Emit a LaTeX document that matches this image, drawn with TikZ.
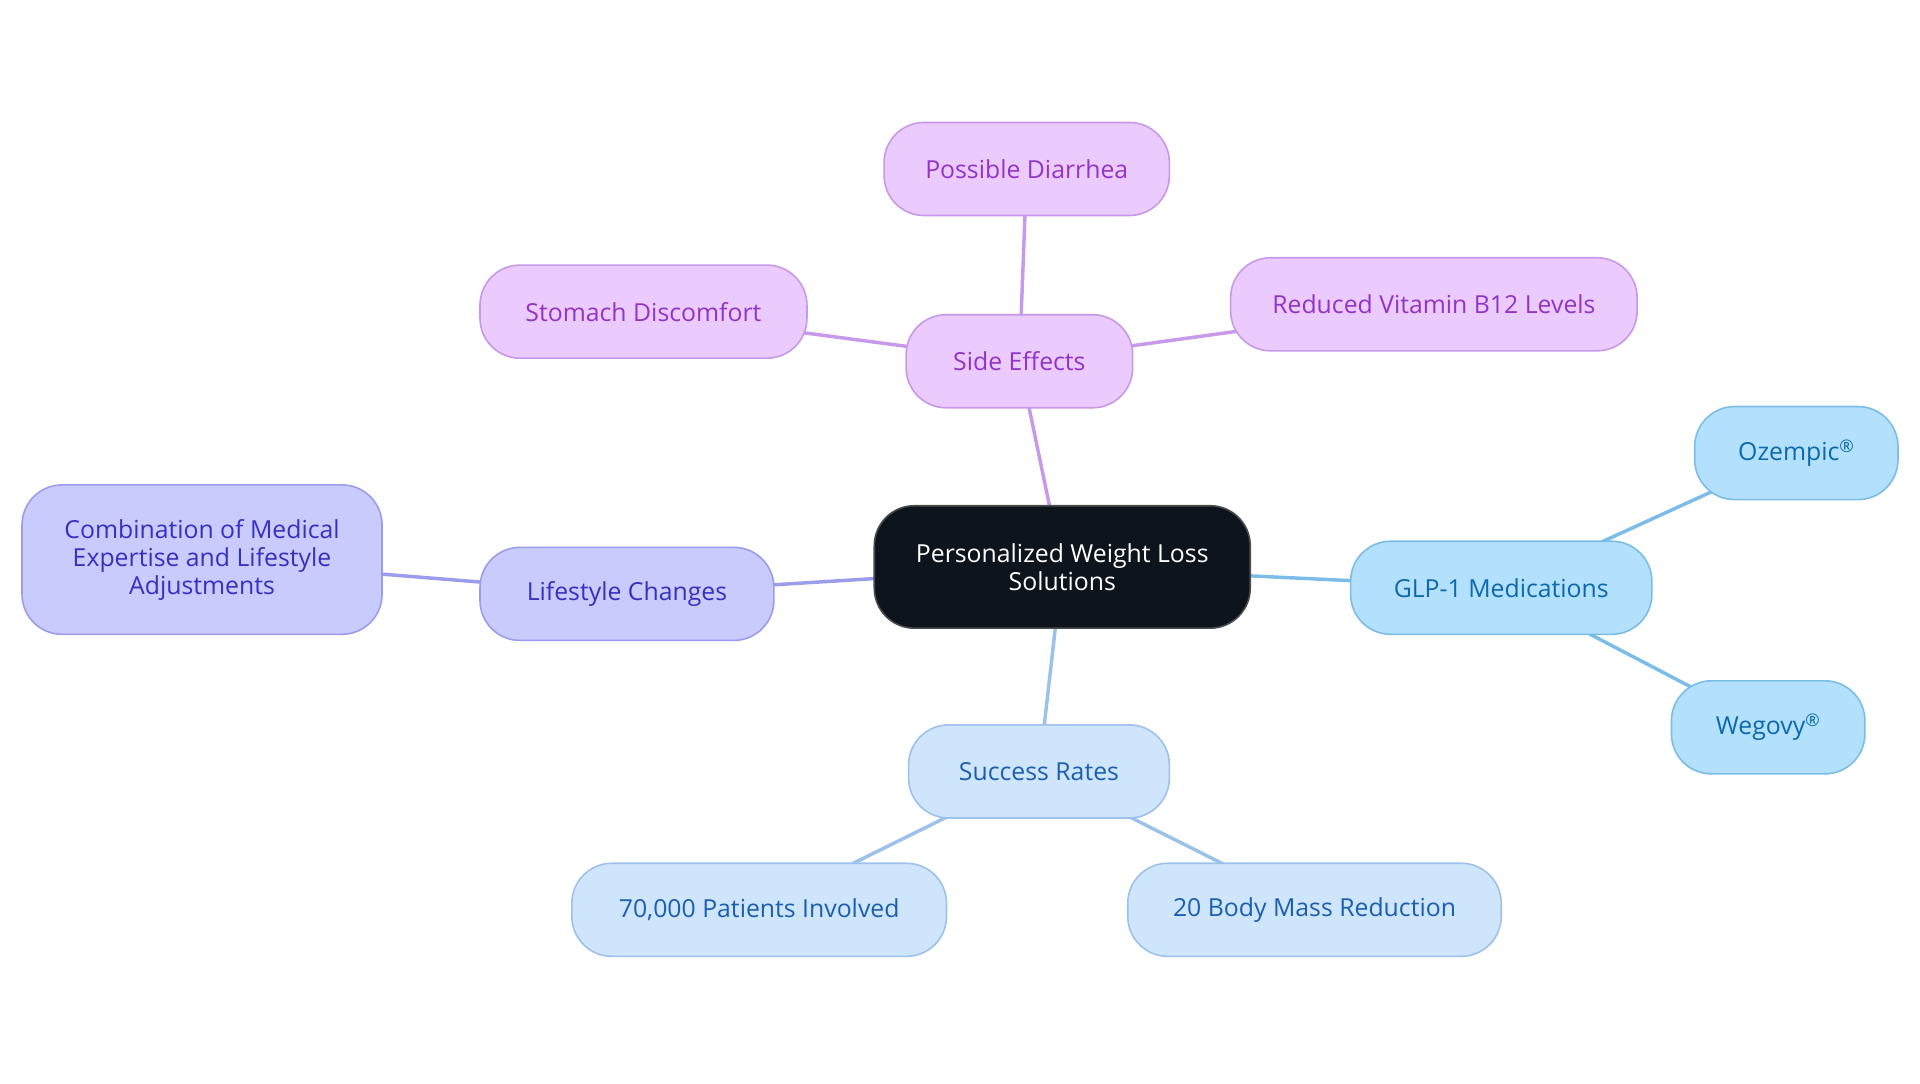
\documentclass[tikz,border=0pt]{standalone}
\usepackage{fontspec}
\setmainfont{Open Sans}
\usepackage{tikz}
\usetikzlibrary{backgrounds}

\newcommand{\px}{0.9184pt}

\definecolor{sidefill}{HTML}{EBCBFD}
\definecolor{sideline}{HTML}{C799EA}
\definecolor{sidetext}{HTML}{9333C8}
\definecolor{lifefill}{HTML}{C8CBFC}
\definecolor{lifeline}{HTML}{9C9CEC}
\definecolor{lifetext}{HTML}{3730C0}
\definecolor{glpfill}{HTML}{B3E0FC}
\definecolor{glpline}{HTML}{7BBDE8}
\definecolor{glptext}{HTML}{0B6AAE}
\definecolor{ratefill}{HTML}{CFE5FC}
\definecolor{rateline}{HTML}{9CC2EC}
\definecolor{ratetext}{HTML}{1A5FB0}
\definecolor{rootfill}{HTML}{0D141C}

\tikzset{
  box/.style={rectangle, rounded corners=30pt, line width=1.2pt, align=center,
    font=\fontsize{18.6}{21}\selectfont, minimum height=76*\px, inner sep=0pt},
  side/.style={box, fill=sidefill, draw=sideline, text=sidetext},
  life/.style={box, fill=lifefill, draw=lifeline, text=lifetext},
  glp/.style={box, fill=glpfill, draw=glpline, text=glptext},
  rate/.style={box, fill=ratefill, draw=rateline, text=ratetext},
  root/.style={box, fill=rootfill, draw=black!70, text=white},
  link/.style={line width=2.6pt}
}

\begin{document}
\begin{tikzpicture}[x=\px, y=-\px]
    \useasboundingbox (0,0) rectangle (1568,884.5);
    % centre
    \node[root, minimum width=307*\px, minimum height=100*\px] (root) at (867.5,463) {Personalized Weight Loss\\Solutions};
    % side effects
    \node[side, minimum width=185*\px] (side) at (832.5,295) {Side Effects};
    \node[side, minimum width=233*\px] (diarrhea) at (838.5,138) {Possible Diarrhea};
    \node[side, minimum width=267*\px] (stomach) at (525.5,254.5) {Stomach Discomfort};
    \node[side, minimum width=332*\px] (vitamin) at (1171,248.5) {Reduced Vitamin B12 Levels};
    % lifestyle
    \node[life, minimum width=240*\px] (life) at (512,485) {Lifestyle Changes};
    \node[life, minimum width=294*\px, minimum height=122*\px] (combo) at (165,457) {Combination of Medical\\Expertise and Lifestyle\\Adjustments};
    % medications
    \node[glp, minimum width=246*\px] (glp) at (1226,480) {GLP-1 Medications};
    \node[glp, minimum width=166*\px] (ozempic) at (1467,370) {Ozempic\textsuperscript{\textregistered}};
    \node[glp, minimum width=158*\px] (wegovy) at (1444,594) {Wegovy\textsuperscript{\textregistered}};
    % success rates
    \node[rate, minimum width=213*\px] (rates) at (848.5,630) {Success Rates};
    \node[rate, minimum width=306*\px] (patients) at (620,743) {70,000 Patients Involved};
    \node[rate, minimum width=305*\px] (mass) at (1073.5,743) {20 Body Mass Reduction};

    \begin{scope}[on background layer]
    \draw[link, sideline] (root.center) -- (side.center);
    \draw[link, sideline] (side.center) -- (diarrhea.center);
    \draw[link, sideline] (side.center) -- (stomach.center);
    \draw[link, sideline] (side.center) -- (vitamin.center);
    \draw[link, lifeline] (root.center) -- (life.center);
    \draw[link, lifeline] (life.center) -- (combo.center);
    \draw[link, glpline] (root.center) -- (glp.center);
    \draw[link, glpline] (glp.center) -- (ozempic.center);
    \draw[link, glpline] (glp.center) -- (wegovy.center);
    \draw[link, rateline] (root.center) -- (rates.center);
    \draw[link, rateline] (rates.center) -- (patients.center);
    \draw[link, rateline] (rates.center) -- (mass.center);
    \end{scope}
\end{tikzpicture}
\end{document}
